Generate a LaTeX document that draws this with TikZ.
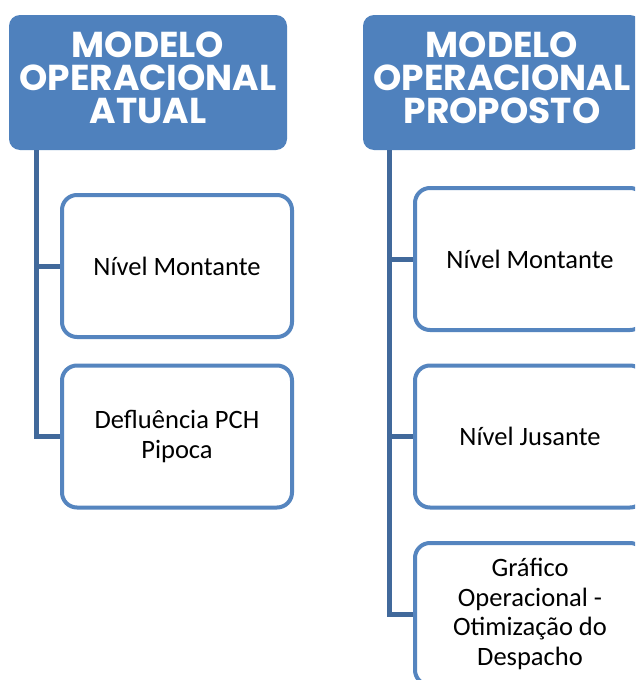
\documentclass[tikz,border=0pt]{standalone}
\usepackage{fontspec}
\setmainfont{Carlito}
\newfontfamily\headfont{Poppins}
\definecolor{headblue}{HTML}{4F81BD}
\definecolor{trunkblue}{HTML}{41699B}
\definecolor{boxline}{HTML}{5585BF}
\tikzset{
  header/.style={rectangle, rounded corners=11pt, fill=headblue, draw=none,
    minimum width=278pt, minimum height=135pt, inner sep=0pt},
  headtext/.style={text=white, align=center, inner sep=0pt,
    font=\headfont\bfseries\fontsize{36}{33}\selectfont},
  itembox/.style={rectangle, rounded corners=15pt, fill=white, draw=boxline,
    line width=4pt, minimum width=230pt, minimum height=142pt, align=center,
    font=\fontsize{26.5}{29.5}\selectfont, text=black, inner sep=0pt},
  trunk/.style={draw=trunkblue, line width=5pt}
}
\begin{document}
\begin{tikzpicture}[x=1pt,y=-1pt]
\useasboundingbox[clip] (0,0) rectangle (635,680);
\fill[white] (0,0) rectangle (635,680);

% current model
\node[header] (lh) at (148,82.5) {};
\node[headtext] (lht) at ([yshift=5pt]lh.center) {MODELO\\OPERACIONAL\\ATUAL};
\node[itembox] (l1) at (177,266) {Nível Montante};
\node[itembox] (l2) at (177,436.5) {Defluência PCH\\Pipoca};
\coordinate (lt) at ([xshift=-112pt]lh.south);
\draw[trunk] (lt) |- (l2.west);
\draw[trunk] (lt |- l1.west) -- (l1.west);

% proposed model
\node[header] (rh) at (502,82.5) {};
\node[headtext] (rht) at ([yshift=5pt]rh.center) {MODELO\\OPERACIONAL\\PROPOSTO};
\node[itembox] (r1) at (530,259) {Nível Montante};
\node[itembox] (r2) at (530,436.5) {Nível Jusante};
\node[itembox] (r3) at (530,614) {Gráfico\\Operacional -\\Otimização do\\Despacho};
\coordinate (rt) at ([xshift=-113pt]rh.south);
\draw[trunk] (rt) |- (r3.west);
\draw[trunk] (rt |- r1.west) -- (r1.west);
\draw[trunk] (rt |- r2.west) -- (r2.west);
\end{tikzpicture}
\end{document}
